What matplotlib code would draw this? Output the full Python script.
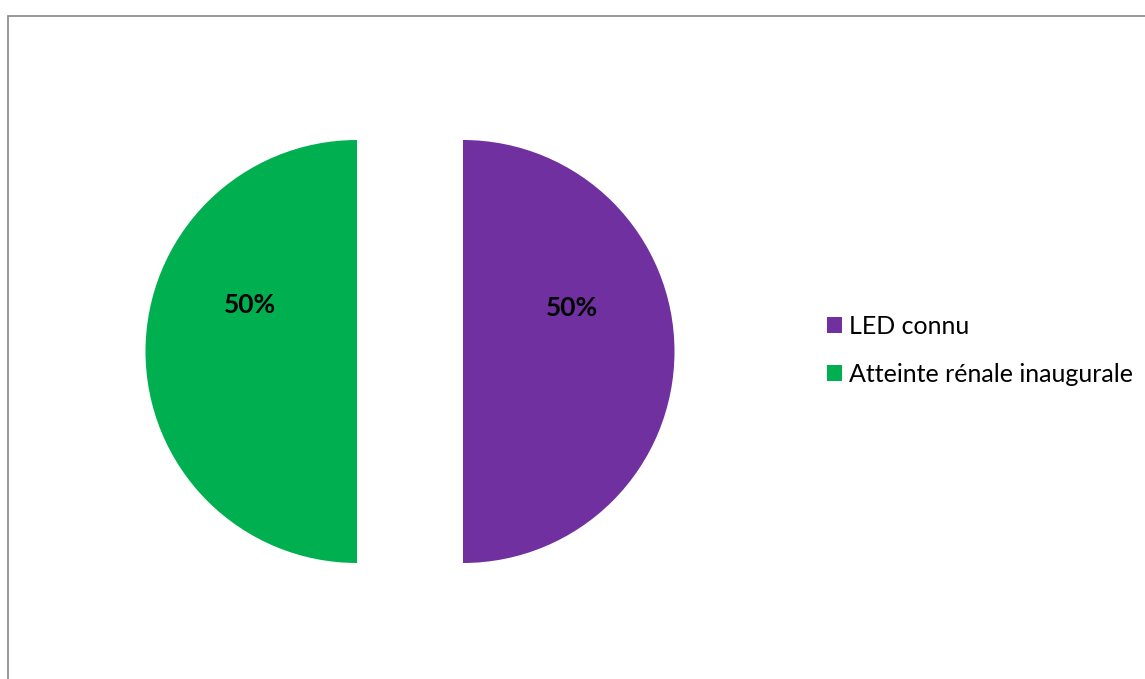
import matplotlib
matplotlib.use("Agg")
import matplotlib.pyplot as plt
from matplotlib.patches import Rectangle, Patch

plt.rcParams['font.family'] = ['Lato', 'DejaVu Sans']

categories = ["LED connu", "Atteinte rénale inaugurale"]
values = [50, 50]
colors = ["#7030A0", "#00B050"]

W, H = 1145, 679
fig = plt.figure(figsize=(W / 100, H / 100), dpi=100)
ax = fig.add_axes([0, 0, 1, 1])

radius = 211.5
center = (410, H - 351.5)
wedges, _ = ax.pie(values, colors=colors, startangle=90, counterclock=False,
                   radius=radius, center=center, explode=[53, 53],
                   wedgeprops=dict(linewidth=0))

# percentage labels inside each exploded half
total = sum(values)
label_offsets = [(109, 44), (-107, 46)]
for w, v, (dx, dy) in zip(wedges, values, label_offsets):
    cx, cy = w.center
    ax.text(cx + dx, cy + dy, f"{v / total * 100:.0f}%", ha="center", va="center",
            fontsize=19, fontweight="bold", color="black")

ax.set_xlim(0, W)
ax.set_ylim(0, H)
ax.set_aspect("equal")
ax.axis("off")

# chart area frame
fig.patches.append(Rectangle((7.5 / W, -0.1), 2, (H - 15.5) / H + 0.1,
                             transform=fig.transFigure, fill=False,
                             edgecolor="#888888", linewidth=1.2))

handles = [Patch(facecolor=c, edgecolor="none") for c in colors]
fig.legend(handles, categories, loc="upper left", bbox_to_anchor=(827 / W, 1 - 315 / H),
           frameon=False, fontsize=18, handlelength=0.6, handleheight=0.6,
           handletextpad=0.28, labelspacing=0.98, borderpad=0, borderaxespad=0)

fig.savefig("out.png", dpi=100)
